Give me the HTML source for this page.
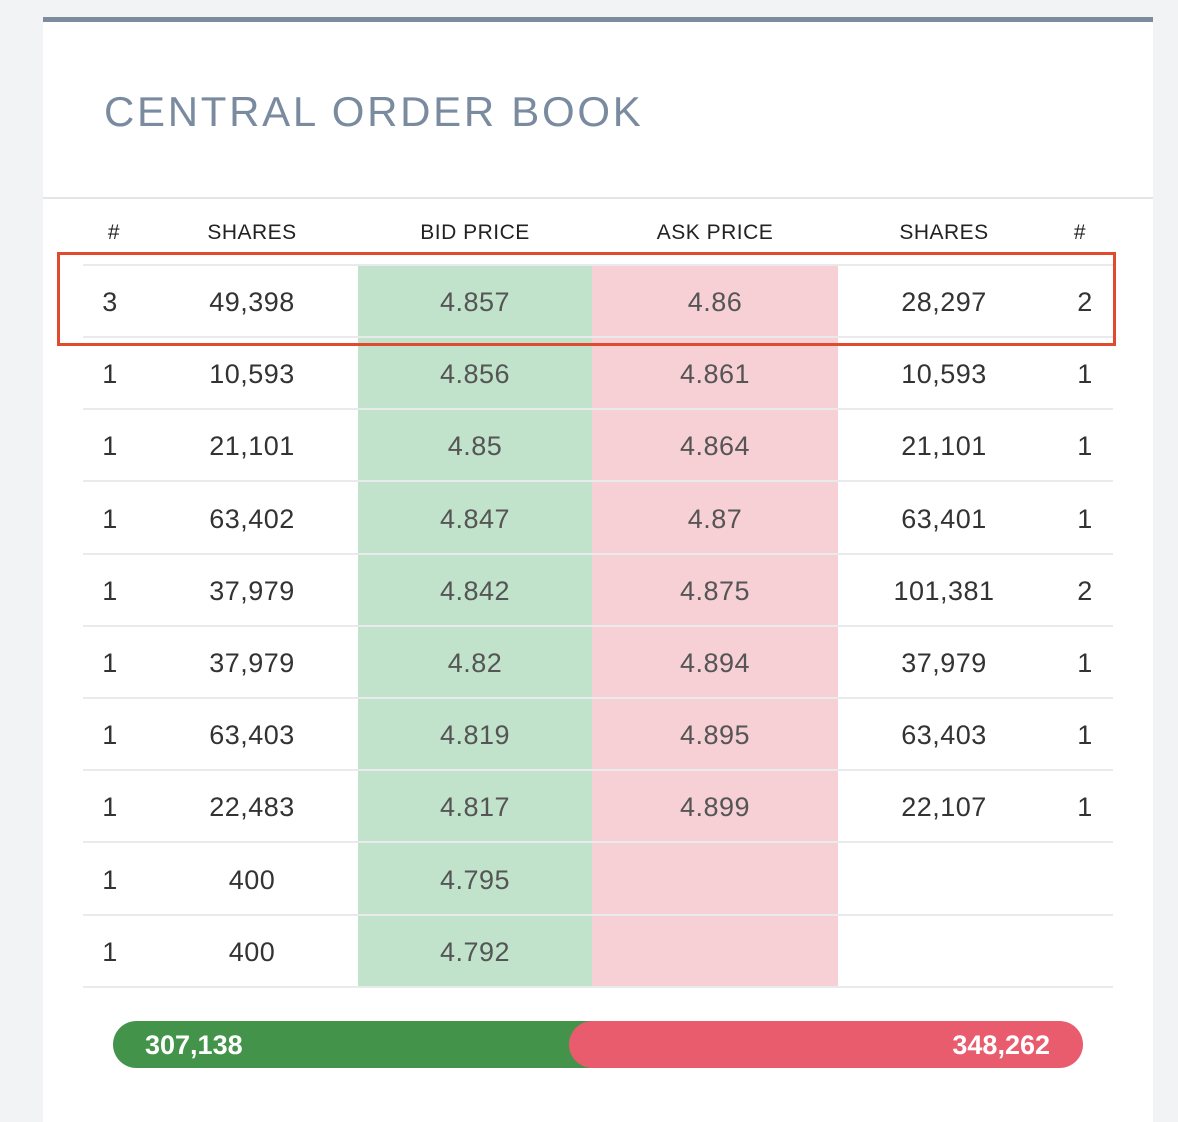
<!DOCTYPE html>
<html><head><style>
body{margin:0;width:1178px;height:1090px;background:#f2f3f5;font-family:"Liberation Sans",sans-serif;overflow:hidden;position:relative}
.card{position:absolute;left:43px;top:17px;width:1110px;height:1100px;background:#fff;border-top:5px solid #7d8b9c}
.title{position:absolute;left:104px;top:88px;font-size:42px;letter-spacing:2.7px;color:#7a8ba0}
.hdiv{position:absolute;left:43px;top:197px;width:1110px;height:2px;background:#e3e5e8}
.col{position:absolute;top:265px;height:722px}
.h{position:absolute;top:221px;font-size:21px;color:#222;letter-spacing:.5px;transform:translateX(-50%)}
.t{position:absolute;font-size:27px;color:#333;transform:translateX(-50%);letter-spacing:.5px}
.p{color:#555}
.line{position:absolute;left:83px;width:1030px;height:2px;background:#e8eaec}
.box{position:absolute;left:57px;top:252px;width:1053px;height:88px;border:3px solid #e04a2e}
.bar{position:absolute;top:1021px;height:47px;border-radius:24px}
.bt{position:absolute;top:1030px;font-size:27px;font-weight:bold;color:#fff}
</style></head><body>
<div class="card"></div>
<div class="title">CENTRAL ORDER BOOK</div>
<div class="hdiv"></div>
<div class="col" style="left:358px;width:234px;background:#c1e2cb"></div>
<div class="col" style="left:592px;width:246px;background:#f7d0d6"></div>
<div class="h" style="left:114px">#</div>
<div class="h" style="left:252px">SHARES</div>
<div class="h" style="left:475px">BID PRICE</div>
<div class="h" style="left:715px">ASK PRICE</div>
<div class="h" style="left:944px">SHARES</div>
<div class="h" style="left:1080px">#</div>
<div class="line" style="top:264px"></div>
<div id="rows"></div>
<div class="box"></div>
<div class="bar" style="left:113px;width:480px;background:#43944a;border-radius:24px 0 0 24px"></div>
<div class="bar" style="left:569px;width:514px;background:#e95c6e"></div>
<div class="bt" style="left:145px">307,138</div>
<div class="bt" style="right:128px">348,262</div>
<script>
var d=[["3","49,398","4.857","4.86","28,297","2"],["1","10,593","4.856","4.861","10,593","1"],["1","21,101","4.85","4.864","21,101","1"],["1","63,402","4.847","4.87","63,401","1"],["1","37,979","4.842","4.875","101,381","2"],["1","37,979","4.82","4.894","37,979","1"],["1","63,403","4.819","4.895","63,403","1"],["1","22,483","4.817","4.899","22,107","1"],["1","400","4.795","","",""],["1","400","4.792","","",""]];
var xs=[110,252,475,715,944,1085],h="";
d.forEach(function(r,i){var y=265+i*72.2;
r.forEach(function(v,j){h+='<div class="t'+(j==2||j==3?' p':'')+'" style="left:'+xs[j]+'px;top:'+(y+22)+'px">'+v+'</div>';});
h+='<div class="line" style="top:'+(y+71)+'px"></div>';});
document.getElementById("rows").innerHTML=h;
</script>
</body></html>
